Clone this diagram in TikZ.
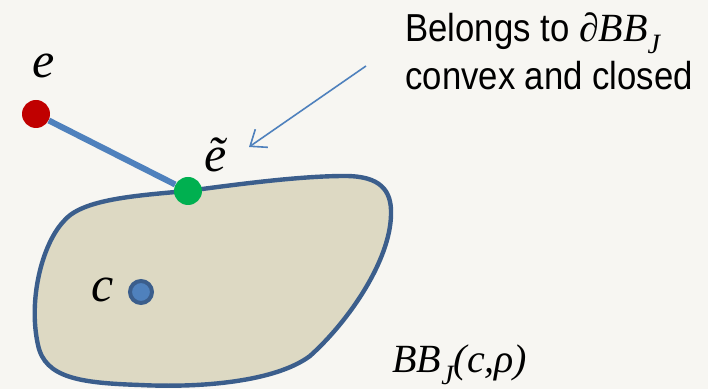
\documentclass[tikz,border=0pt]{standalone}
\usepackage{fontspec}
\setmainfont{Liberation Serif}
\newfontfamily\notefont[FakeStretch=0.89]{Liberation Sans}
\usetikzlibrary{arrows.meta}
\definecolor{bgcol}{HTML}{F7F6F2}
\definecolor{setfill}{HTML}{DDD9C3}
\definecolor{setline}{HTML}{3B5E8C}
\definecolor{segblue}{HTML}{4F81BD}
\definecolor{ptred}{HTML}{C00000}
\definecolor{ptgreen}{HTML}{00B050}
\newcommand{\subJ}{\raisebox{-0.3em}{\fontsize{14}{14}\selectfont\itshape J}}
\tikzset{
  pt/.style={circle,inner sep=0pt,minimum size=14pt},
  sym/.style={font=\fontsize{25}{25}\selectfont\itshape,inner sep=0pt},
  note/.style={font=\notefont\fontsize{19.5}{24}\selectfont,inner sep=0pt,anchor=base west},
}
\begin{document}
\begin{tikzpicture}[x=0.5pt,y=-0.5pt]
  \path[use as bounding box,fill=bgcol] (0,0) rectangle (708,389);
  % the set BB_J
  \draw[setline,line width=2.2pt,fill=setfill]
    (187,191) .. controls (240,184) and (300,176) .. (345,176)
    .. controls (380,176) and (392,190) .. (391,215)
    .. controls (390,260) and (350,320) .. (310,356)
    .. controls (275,382) and (200,388) .. (140,385)
    .. controls (80,383) and (45,378) .. (38,345)
    .. controls (28,300) and (42,245) .. (63,222)
    .. controls (80,200) and (130,196) .. (187,191) -- cycle;
  % points
  \node[pt,fill=ptred] (edot) at (36,114) {};
  \node[pt,fill=ptgreen] (etdot) at (188,191) {};
  \node[circle,inner sep=0pt,minimum size=11pt,fill=segblue,draw=setline,line width=2pt] (cdot) at (141,292) {};
  \draw[segblue,line width=3pt] (edot) -- (etdot);
  % labels
  \node[sym] (elab) at (44,66) {e};
  \node[sym,anchor=base] (etlab) at (216,172) {\~e};
  \node[sym] (clab) at (103,290) {c};
  \node[font=\fontsize{20}{20}\selectfont\itshape,inner sep=0pt,anchor=base west] (setlab) at (392,373) {BB\subJ(c,ρ)};
  \node[note] (note1) at (405,42) {Belongs to {\rmfamily\itshape\fontsize{20}{20}\selectfont ∂BB\subJ}};
  \node[note] (note2) at (405,90) {convex and closed};
  \coordinate (arrfrom) at (366,66);
  \coordinate (arrto) at (249,147);
  \draw[segblue,line width=0.8pt,-{Straight Barb[length=7pt,width=11pt]}] (arrfrom) -- (arrto);
\end{tikzpicture}
\end{document}
